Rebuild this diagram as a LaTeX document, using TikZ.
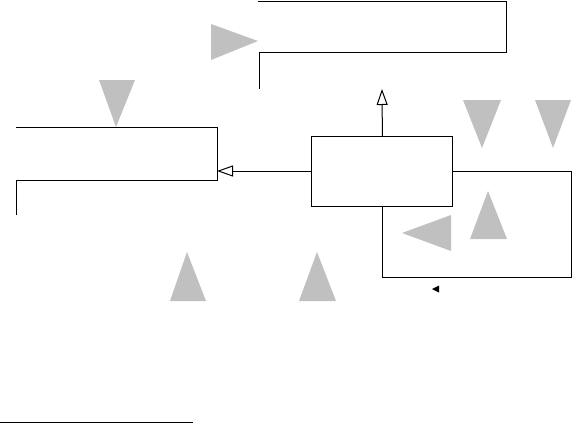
\documentclass[tikz,border=0pt]{standalone}
\usepackage{tikz}
\usetikzlibrary{arrows.meta, positioning}
\definecolor{markgray}{RGB}{192, 192, 192}

\begin{document}
\begin{tikzpicture}[x=1pt, y=-1pt,
        wire/.style={line width=1pt},
        openarrow/.style={wire, -{Triangle[open, length=16pt, width=11pt]}},
        marker/.style={fill=markgray, draw=none},
        block/.style={draw, line width=1pt, minimum width=141pt,
                      minimum height=70pt, inner sep=0pt, outer sep=0pt}]
    \useasboundingbox (0,0) rectangle (572,423);

    % main block and its junction points
    \node[block] (ctrl) at (382.4,171) {};
    \coordinate (lbr) at (217,171);
    \coordinate (upend) at (382,89);
    \coordinate (loopr) at (571,171);

    % top bracket
    \draw[wire] (258,1) -- (506,1) -- (506,52) -- (259,52) -- (259,89);
    % left bracket
    \draw[wire] (16,127) -- (217,127) -- (217,180) -- (16,180) -- (16,215);

    % connectors
    \draw[openarrow] (ctrl.west) -- (lbr);
    \draw[openarrow] (ctrl.north) -- (upend);
    \draw[wire] (ctrl.east) -- (loopr) -- (571,277) -| (ctrl.south);

    % small black marker
    \fill (432,289) -- (439,285.5) -- (439,292.5) -- cycle;

    % gray markers
    \fill[marker] (211,24) -- (258,41) -- (211,60) -- cycle;
    \fill[marker] (99,80) -- (135,80) -- (116,127) -- cycle;
    \fill[marker] (463,100) -- (501,100) -- (482,148) -- cycle;
    \fill[marker] (535,100) -- (571,100) -- (553,148) -- cycle;
    \fill[marker] (488,191) -- (507,239) -- (470,239) -- cycle;
    \fill[marker] (402,233) -- (451,215) -- (451,251) -- cycle;
    \fill[marker] (187,252) -- (206,301) -- (170,301) -- cycle;
    \fill[marker] (317,252) -- (336,301) -- (299,301) -- cycle;

    % bottom rule
    \draw[wire] (0,422) -- (193,422);
\end{tikzpicture}
\end{document}
